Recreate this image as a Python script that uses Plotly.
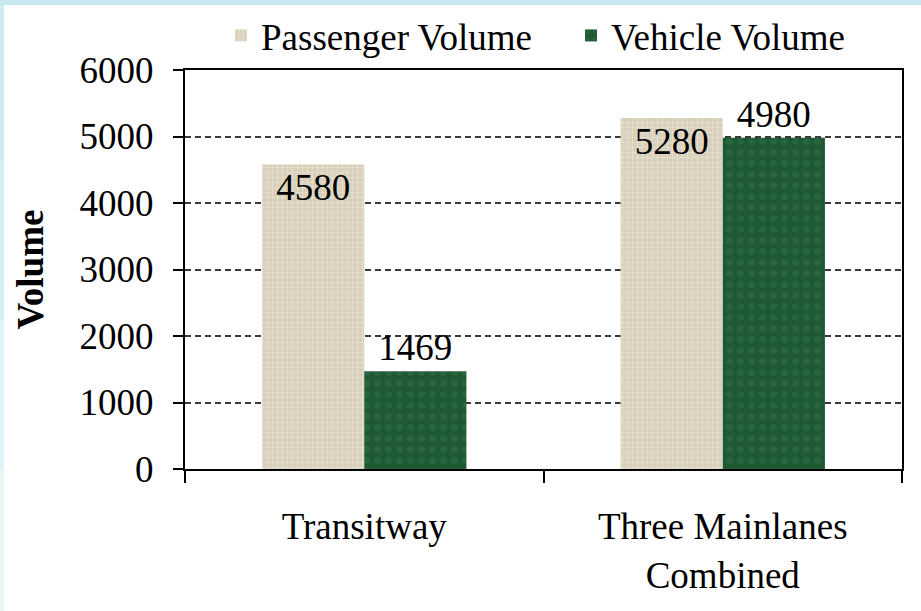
import plotly.graph_objects as go

# Volumes by facility
categories = ["Transitway", "Three Mainlanes<br>Combined"]
passenger_volume = [4580, 5280]
vehicle_volume = [1469, 4980]
y_ticks = [0, 1000, 2000, 3000, 4000, 5000, 6000]

SERIF = "Liberation Serif, Times New Roman, serif"
FS = 37

# plot-area margins (px)
W, H = 921, 611
ML, MR, MT, MB = 185, 19, 70, 142
PW, PH = W - ML - MR, H - MT - MB


def px_x(px):
    return (px - ML) / PW


def px_y(py):
    return (H - MB - py) / PH


fig = go.Figure()

fig.add_trace(go.Bar(
    name="Passenger Volume",
    x=categories,
    y=passenger_volume,
    text=[str(v) for v in passenger_volume],
    textposition="inside",
    insidetextanchor="end",
    textfont=dict(family=SERIF, size=FS, color="black"),
    marker=dict(
        color="#dad1bd",
        line=dict(width=0),
        pattern=dict(shape="+", fgcolor="#ebe5d8", bgcolor="#d9d0bc",
                     size=5, solidity=0.22, fillmode="replace"),
    ),
))

fig.add_trace(go.Bar(
    name="Vehicle Volume",
    x=categories,
    y=vehicle_volume,
    text=[str(v) for v in vehicle_volume],
    textposition="outside",
    textfont=dict(family=SERIF, size=FS, color="black"),
    cliponaxis=False,
    marker=dict(
        color="#1f5c36",
        line=dict(width=0),
        pattern=dict(shape=".", fgcolor="#27653e", bgcolor="#1e5934",
                     size=11, solidity=0.3, fillmode="replace"),
    ),
))

# light-blue slide frame along the top and left edges
frame = [
    dict(x0=0, x1=W, y0=0, y1=5, color="#c6e8ee"),
    dict(x0=0, x1=4, y0=5, y1=160, color="#cdebf0"),
    dict(x0=0, x1=4, y0=160, y1=320, color="#d6eff3"),
    dict(x0=0, x1=4, y0=320, y1=470, color="#e0f3f6"),
    dict(x0=0, x1=4, y0=470, y1=H, color="#e9f7f9"),
]
shapes = [
    dict(type="rect", xref="paper", yref="paper",
         x0=px_x(f["x0"]), x1=px_x(f["x1"]), y0=px_y(f["y1"]), y1=px_y(f["y0"]),
         fillcolor=f["color"], line=dict(width=0), layer="below")
    for f in frame
]

fig.update_layout(
    width=W, height=H,
    margin=dict(l=ML, r=MR, t=MT, b=MB, pad=0, autoexpand=False),
    paper_bgcolor="white",
    plot_bgcolor="white",
    barmode="group",
    bargap=0.43,
    bargroupgap=0,
    font=dict(family=SERIF, size=FS, color="black"),
    showlegend=True,
    legend=dict(
        orientation="h",
        xref="container", x=221 / W, xanchor="left",
        yref="container", y=0.992, yanchor="top",
        font=dict(family=SERIF, size=FS, color="black"),
        bgcolor="rgba(0,0,0,0)",
        entrywidth=305,
        traceorder="normal",
    ),
    shapes=shapes,
    annotations=[dict(
        text="<b>Volume</b>", textangle=-90,
        xref="paper", yref="paper", x=px_x(30), y=0.5,
        xanchor="center", yanchor="middle", showarrow=False,
        font=dict(family=SERIF, size=FS, color="black"),
    )],
)

fig.update_xaxes(
    type="category",
    range=[-0.5, 1.5],
    showline=True, linecolor="black", linewidth=2, mirror=True,
    ticks="outside", ticklen=12, tickwidth=2, tickcolor="black",
    tickson="boundaries",
    showgrid=False,
    ticklabelstandoff=24,
    tickfont=dict(family=SERIF, size=FS, color="black"),
)

fig.update_yaxes(
    range=[0, 6000],
    tickvals=y_ticks,
    ticktext=[str(v) for v in y_ticks],
    showline=True, linecolor="black", linewidth=2, mirror=True,
    ticks="outside", ticklen=10, tickwidth=2, tickcolor="black",
    showgrid=True, gridcolor="#3a3a3a", gridwidth=1.5, griddash="6px,4px",
    zeroline=False,
    ticklabelstandoff=12,
    tickfont=dict(family=SERIF, size=FS, color="black"),
)

fig.write_html("out.html")
